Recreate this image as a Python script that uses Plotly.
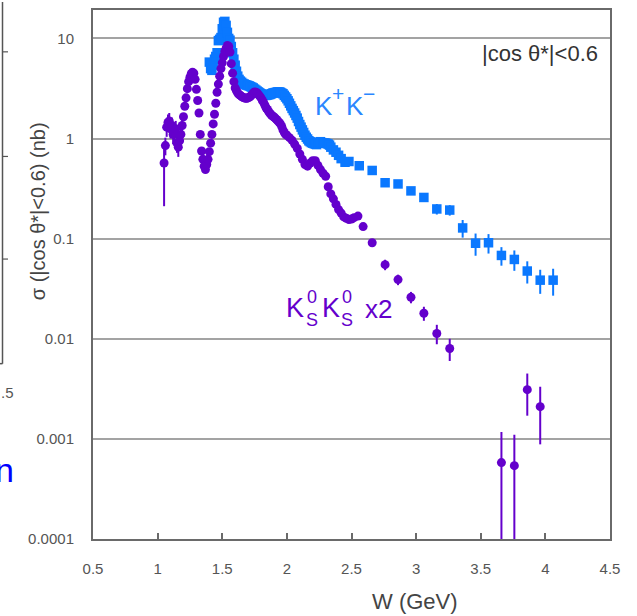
import plotly.graph_objects as go

# ---- K+K- cross section (|cos θ*| < 0.6), nb ----
KK_W = [1.40, 1.41, 1.42, 1.43, 1.44, 1.45, 1.46, 1.47, 1.48, 1.49,
        1.50, 1.51, 1.52, 1.53, 1.54, 1.55, 1.56, 1.57, 1.58, 1.59,
        1.60, 1.61, 1.62, 1.63, 1.64, 1.65, 1.66, 1.67, 1.68, 1.69,
        1.70, 1.71, 1.72, 1.73, 1.74, 1.75, 1.76, 1.77, 1.78, 1.79,
        1.80, 1.81, 1.82, 1.83, 1.84, 1.85, 1.86, 1.87, 1.88, 1.89,
        1.90, 1.91, 1.92, 1.93, 1.94, 1.95, 1.96, 1.97, 1.98, 1.99,
        2.00, 2.01, 2.02, 2.03, 2.04, 2.05, 2.06, 2.07, 2.08, 2.09,
        2.10, 2.11, 2.12, 2.13, 2.14, 2.15, 2.16, 2.17, 2.18, 2.19,
        2.20, 2.21, 2.22, 2.23, 2.24, 2.25, 2.26, 2.27, 2.28, 2.29,
        2.30, 2.31, 2.32, 2.33, 2.34, 2.36, 2.38, 2.40, 2.42, 2.45,
        2.48, 2.56, 2.66, 2.76, 2.86, 2.96, 3.06, 3.16, 3.26, 3.36,
        3.46, 3.56, 3.66, 3.76, 3.86, 3.96, 4.06]
KK_SIG = [5.8, 5.0, 4.8, 5.4, 6.2, 6.6, 7.2, 9.5, 9.8, 10.2,
          12.5, 14.5, 14.8, 13.5, 11.5, 10.0, 9.6, 8.3, 7.2, 6.2,
          5.4, 4.7, 4.2, 3.9, 3.75, 3.65, 3.55, 3.50, 3.45, 3.42,
          3.38, 3.35, 3.30, 3.25, 3.20, 3.12, 3.05, 2.98, 2.92, 2.86,
          2.80, 2.76, 2.72, 2.70, 2.70, 2.72, 2.74, 2.76, 2.80, 2.84,
          2.86, 2.88, 2.90, 2.92, 2.92, 2.90, 2.85, 2.80, 2.70, 2.60,
          2.50, 2.38, 2.25, 2.12, 2.00, 1.90, 1.80, 1.70, 1.60, 1.48,
          1.38, 1.30, 1.22, 1.15, 1.08, 1.03, 0.99, 0.95, 0.93, 0.91,
          0.90, 0.89, 0.88, 0.87, 0.90, 0.92, 0.93, 0.91, 0.90, 0.90,
          0.90, 0.89, 0.88, 0.86, 0.82, 0.77, 0.73, 0.68, 0.63, 0.58,
          0.59, 0.535, 0.48, 0.362, 0.352, 0.30, 0.258, 0.198, 0.193, 0.128,
          0.090, 0.091, 0.068, 0.062, 0.0475, 0.0385, 0.0385]
# relative statistical uncertainty per point
KK_REL_ERR = [0.06] * 21 + [0.03] * 80 + [0.06, 0.07, 0.08, 0.08, 0.09, 0.10, 0.12, 0.12, 0.20,
                                          0.25, 0.22, 0.21, 0.23, 0.25, 0.27, 0.30]

# ---- K0S K0S cross section (x2), nb ----
KS_W = [1.05, 1.06, 1.07, 1.08, 1.09, 1.10, 1.11, 1.12, 1.13, 1.14,
        1.15, 1.16, 1.17, 1.18, 1.19, 1.20, 1.21, 1.22, 1.23, 1.24,
        1.25, 1.26, 1.27, 1.28, 1.29, 1.30, 1.31, 1.32, 1.33, 1.34,
        1.35, 1.36, 1.37, 1.38, 1.39, 1.40, 1.41, 1.42, 1.43, 1.44,
        1.45, 1.46, 1.47, 1.48, 1.49, 1.50, 1.51, 1.52, 1.53, 1.54,
        1.55, 1.56, 1.57, 1.58, 1.59, 1.60, 1.61, 1.62, 1.63, 1.64,
        1.65, 1.66, 1.67, 1.68, 1.69, 1.70, 1.71, 1.72, 1.73, 1.74,
        1.75, 1.76, 1.77, 1.78, 1.79, 1.80, 1.81, 1.82, 1.83, 1.84,
        1.85, 1.86, 1.87, 1.88, 1.89, 1.90, 1.91, 1.92, 1.93, 1.94,
        1.95, 1.96, 1.97, 1.98, 1.99, 2.00, 2.02, 2.04, 2.06, 2.08,
        2.10, 2.12, 2.14, 2.16, 2.18, 2.20, 2.22, 2.24, 2.26, 2.28,
        2.30, 2.32, 2.34, 2.36, 2.38, 2.40, 2.42, 2.44, 2.46, 2.48,
        2.50, 2.52, 2.55, 2.59, 2.66, 2.76, 2.86, 2.96, 3.06, 3.16,
        3.26, 3.66, 3.76, 3.86, 3.96]
KS_SIG = [0.57, 0.85, 1.30, 1.45, 1.50, 1.25, 1.35, 1.10, 1.15, 1.25,
          0.90, 0.82, 0.95, 1.10, 1.35, 1.65, 2.10, 2.55, 3.15, 3.70,
          4.10, 4.45, 4.60, 4.50, 3.90, 3.10, 2.40, 1.80, 1.10, 0.75,
          0.62, 0.53, 0.49, 0.55, 0.62, 0.74, 0.90, 1.10, 1.40, 1.75,
          2.25, 2.90, 3.50, 4.20, 5.00, 5.70, 6.60, 7.40, 8.00, 8.50,
          8.30, 7.30, 5.60, 4.50, 3.70, 3.20, 3.00, 2.85, 2.75, 2.70,
          2.62, 2.58, 2.55, 2.52, 2.52, 2.55, 2.60, 2.65, 2.75, 2.85,
          2.92, 2.90, 2.85, 2.75, 2.65, 2.55, 2.40, 2.30, 2.15, 2.02,
          1.95, 1.85, 1.78, 1.72, 1.68, 1.64, 1.60, 1.55, 1.50, 1.45,
          1.40, 1.32, 1.22, 1.15, 1.10, 1.08, 1.02, 0.96, 0.88, 0.80,
          0.70, 0.62, 0.55, 0.53, 0.57, 0.60, 0.60, 0.54, 0.49, 0.45,
          0.42, 0.33, 0.28, 0.25, 0.22, 0.195, 0.18, 0.165, 0.16, 0.155,
          0.157, 0.162, 0.168, 0.132, 0.091, 0.055, 0.039, 0.026, 0.018, 0.0113,
          0.0080, 0.00058, 0.00054, 0.0031, 0.0021]
KS_REL_ERR = ([0.63] + [0.20] * 14 + [0.04] * 108 +
              [0.06, 0.08, 0.12, 0.12, 0.13, 0.16, 0.22, 0.25, 1.02, 1.04, 0.45, 0.58])

X_TICKS = [0.5, 1, 1.5, 2, 2.5, 3, 3.5, 4, 4.5]
X_TICK_TEXT = ["0.5", "1", "1.5", "2", "2.5", "3", "3.5", "4", "4.5"]
Y_TICKS = [0.0001, 0.001, 0.01, 0.1, 1, 10]
Y_TICK_TEXT = ["0.0001", "0.001", "0.01", "0.1", "1", "10"]

BLUE = "#0a78ff"
PURPLE = "#6400cc"
FONT = "Arial, Liberation Sans, sans-serif"

W_PX, H_PX = 637, 616
M_L, M_R, M_T, M_B = 93, 27, 8, 77
PW, PH = W_PX - M_L - M_R, H_PX - M_T - M_B


def fx(x):
    """page pixel -> paper x"""
    return (x - M_L) / PW


def fy(y):
    """page pixel -> paper y"""
    return (H_PX - M_B - y) / PH


fig = go.Figure()

fig.add_trace(go.Scatter(
    x=KK_W, y=KK_SIG, mode="markers", name="K+K-",
    marker=dict(symbol="square", size=9.5, color=BLUE),
    error_y=dict(type="data", array=[s * e for s, e in zip(KK_SIG, KK_REL_ERR)],
                 color=BLUE, thickness=2, width=0),
))
fig.add_trace(go.Scatter(
    x=KS_W, y=KS_SIG, mode="markers", name="KsKs x2",
    marker=dict(symbol="circle", size=9, color=PURPLE),
    error_y=dict(type="data", array=[s * e for s, e in zip(KS_SIG, KS_REL_ERR)],
                 color=PURPLE, thickness=2, width=0),
))

ann = []


def label(text, x, y, size, color, xanchor="left", yanchor="middle", angle=0):
    ann.append(dict(text=text, x=fx(x), y=fy(y), xref="paper", yref="paper",
                    xanchor=xanchor, yanchor=yanchor, showarrow=False, textangle=angle,
                    borderpad=0, font=dict(family=FONT, size=size, color=color)))


label("|cos θ*|<0.6", 599, 52, 22, "#333333", xanchor="right")

# K+K- with enlarged charge signs
KK_TXT = "#2a86ff"
label("K", 314, 104, 26, KK_TXT)
label("+", 331, 92, 21, KK_TXT)
label("K", 345, 104, 26, KK_TXT)
label("−", 362, 92, 21, KK_TXT)

# K0S K0S x2 with stacked super/subscripts
label("K", 285, 307, 27, PURPLE)
label("0<br>S", 305, 308, 18, PURPLE)
label("K", 321, 307, 27, PURPLE)
label("0<br>S", 340, 308, 18, PURPLE)
label("x2", 364, 308, 26, PURPLE)

# axis titles
label("W (GeV)", 415, 602, 22, "#444444", xanchor="center")
label("σ (|cos θ*|<0.6) (nb)", 38, 210, 20, "#444444", xanchor="center", angle=-90)

# neighbouring panel edge on the left
label(".5", 0, 392, 15, "#555555")
label("n", -6, 470, 34, "#0000ff")

shapes = [
    dict(type="line", xref="paper", yref="paper", x0=fx(2.5), x1=fx(2.5), y0=fy(0), y1=fy(363),
         line=dict(color="#555555", width=1.5)),
    dict(type="line", xref="paper", yref="paper", x0=fx(0), x1=fx(2.5), y0=fy(363), y1=fy(363),
         line=dict(color="#555555", width=1.5)),
]
for ty in (50, 155, 258):
    shapes.append(dict(type="line", xref="paper", yref="paper", x0=fx(2.5), x1=fx(8), y0=fy(ty), y1=fy(ty),
                       line=dict(color="#555555", width=1.2)))

fig.update_layout(
    width=W_PX, height=H_PX,
    margin=dict(l=M_L, r=M_R, t=M_T, b=M_B, pad=0),
    paper_bgcolor="white", plot_bgcolor="white",
    showlegend=False,
    annotations=ann, shapes=shapes,
    font=dict(family=FONT, color="#555555"),
    xaxis=dict(range=[0.5, 4.5], tickvals=X_TICKS, ticktext=X_TICK_TEXT,
               ticks="inside", ticklen=6, tickwidth=1.5, tickcolor="#6a6a6a",
               showline=True, linecolor="#6a6a6a", linewidth=2, mirror=True,
               showgrid=False, zeroline=False,
               tickfont=dict(family=FONT, size=15, color="#555555"),
               ticklabelstandoff=15),
    yaxis=dict(type="log", range=[-4, 1.284], tickvals=Y_TICKS, ticktext=Y_TICK_TEXT,
               ticks="", showline=True, linecolor="#6a6a6a", linewidth=2, mirror=True,
               showgrid=True, gridcolor="#a3a3a3", gridwidth=1.5, zeroline=False,
               tickfont=dict(family=FONT, size=15, color="#555555"),
               ticklabelstandoff=14),
)

fig.write_html("out.html")
